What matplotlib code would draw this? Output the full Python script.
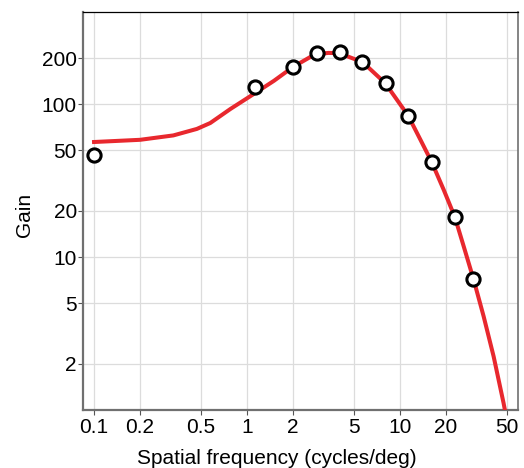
import matplotlib
matplotlib.use("Agg")
import matplotlib.pyplot as plt
from matplotlib.ticker import FixedLocator, FixedFormatter, NullLocator

plt.rcParams['font.family'] = ['Liberation Sans', 'DejaVu Sans']

# measured gain (circles)
freq_data = [0.1, 1.12, 2.01, 2.85, 4.03, 5.67, 8.05, 11.3, 16.1, 22.7, 30.2]
gain_data = [46.6, 130, 176, 215, 219, 188, 137, 84, 41.8, 18.3, 7.15]

# model fit (red curve)
freq_fit = [0.1, 0.2, 0.33, 0.47, 0.575, 0.78, 1.1, 1.5, 2.0, 2.7, 3.0, 3.4, 4.0,
            5.7, 8.0, 11.3, 13.6, 16.1, 19.3, 22.8, 26.1, 30.3, 35.2, 40.9, 47.5, 50.0]
gain_fit = [56.5, 58.4, 62.4, 68.8, 75.2, 93, 116, 142, 175, 208, 213, 216, 215,
            188, 137, 84, 58.4, 41.8, 27.5, 18.3, 11.7, 7.1, 4.09, 2.24, 1.11, 0.85]

xticks = [0.1, 0.2, 0.5, 1, 2, 5, 10, 20, 50]
xticklabels = ['0.1', '0.2', '0.5', '1', '2', '5', '10', '20', '50']
yticks = [2, 5, 10, 20, 50, 100, 200]
yticklabels = ['2', '5', '10', '20', '50', '100', '200']

fig = plt.figure(figsize=(5.24, 4.68), dpi=100)
ax = fig.add_axes([0.1584, 0.1239, 0.9885 - 0.1584, 0.9744 - 0.1239])

ax.set_xscale('log')
ax.set_yscale('log')
ax.set_xlim(0.0847, 59)
ax.set_ylim(1.0, 400)

ax.plot(freq_fit, gain_fit, color='#e8282e', lw=2.9, solid_joinstyle='round', zorder=3)
ax.plot(freq_data, gain_data, 'o', mfc='white', mec='black', mew=2.2, ms=9.5, zorder=4)

ax.xaxis.set_major_locator(FixedLocator(xticks))
ax.xaxis.set_major_formatter(FixedFormatter(xticklabels))
ax.xaxis.set_minor_locator(NullLocator())
ax.yaxis.set_major_locator(FixedLocator(yticks))
ax.yaxis.set_major_formatter(FixedFormatter(yticklabels))
ax.yaxis.set_minor_locator(NullLocator())

ax.grid(True, color='#dcdcdc', lw=0.9)
ax.set_axisbelow(True)

for side in ['left', 'bottom']:
    ax.spines[side].set_color('#707070')
    ax.spines[side].set_linewidth(1.6)
ax.spines['top'].set_color('black')
ax.spines['top'].set_linewidth(0.9)
ax.spines['right'].set_color('#707070')
ax.spines['right'].set_linewidth(1.2)

ax.tick_params(axis='both', direction='out', length=3.5, width=0.8, color='#555555',
               labelsize=15)
ax.tick_params(axis='x', pad=2.5)
ax.tick_params(axis='y', pad=1)

ax.set_xlabel('Spatial frequency (cycles/deg)', fontsize=15)
ax.set_ylabel('Gain', fontsize=15)
ax.xaxis.set_label_coords(0.446, -0.098)
ax.yaxis.set_label_coords(-0.113, 0.49)

fig.savefig('out.png', dpi=100)
